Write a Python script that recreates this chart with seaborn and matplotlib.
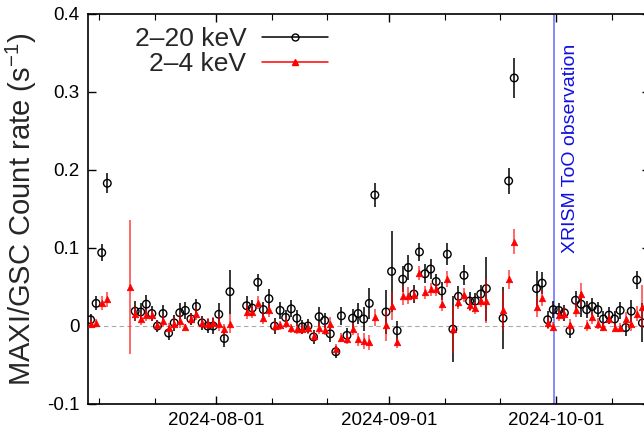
import matplotlib
matplotlib.use("Agg")
import matplotlib.pyplot as plt
import matplotlib.dates as mdates
from matplotlib.lines import Line2D
import pandas as pd
import seaborn as sns
import numpy as np

# 2-20 keV (black)
dates_hard = ["2024-07-09", "2024-07-10", "2024-07-11", "2024-07-12",
              "2024-07-17", "2024-07-18", "2024-07-19", "2024-07-20", "2024-07-21", "2024-07-22",
              "2024-07-23", "2024-07-24", "2024-07-25", "2024-07-26", "2024-07-27", "2024-07-28",
              "2024-07-29", "2024-07-30", "2024-07-31", "2024-08-01", "2024-08-02", "2024-08-03",
              "2024-08-06", "2024-08-07", "2024-08-08", "2024-08-09", "2024-08-10", "2024-08-11",
              "2024-08-12", "2024-08-13", "2024-08-14", "2024-08-15", "2024-08-16", "2024-08-17",
              "2024-08-18", "2024-08-19", "2024-08-20", "2024-08-21", "2024-08-22", "2024-08-23",
              "2024-08-24", "2024-08-25", "2024-08-26", "2024-08-27", "2024-08-28", "2024-08-29",
              "2024-08-31", "2024-09-01", "2024-09-02", "2024-09-03", "2024-09-04", "2024-09-05",
              "2024-09-06", "2024-09-07", "2024-09-08", "2024-09-09", "2024-09-10", "2024-09-11",
              "2024-09-12", "2024-09-13", "2024-09-14", "2024-09-15", "2024-09-16", "2024-09-17",
              "2024-09-18", "2024-09-21", "2024-09-22", "2024-09-23", "2024-09-27", "2024-09-28",
              "2024-09-29", "2024-09-30", "2024-10-01", "2024-10-02", "2024-10-03", "2024-10-04",
              "2024-10-05", "2024-10-06", "2024-10-07", "2024-10-08", "2024-10-09", "2024-10-10",
              "2024-10-11", "2024-10-12", "2024-10-13", "2024-10-14", "2024-10-15", "2024-10-16"]
rate_hard = [0.008, 0.029, 0.094, 0.183,
             0.019, 0.018, 0.028, 0.016, 0.000, 0.016,
             -0.009, 0.004, 0.017, 0.020, 0.009, 0.025,
             0.004, 0.000, 0.000, 0.015, -0.016, 0.044,
             0.026, 0.023, 0.056, 0.021, 0.035, 0.000,
             0.020, 0.011, 0.022, 0.010, -0.001, 0.000,
             -0.014, 0.012, 0.007, -0.010, -0.033, 0.013,
             -0.012, 0.010, 0.016, 0.009, 0.029, 0.168,
             0.018, 0.070, -0.006, 0.060, 0.075, 0.041,
             0.095, 0.067, 0.073, 0.057, 0.045, 0.092,
             -0.004, 0.038, 0.065, 0.032, 0.032, 0.041,
             0.048, 0.010, 0.186, 0.318, 0.048, 0.055,
             0.008, 0.021, 0.020, 0.017, -0.006, 0.033,
             0.028, 0.021, 0.025, 0.021, 0.009, 0.014,
             0.009, 0.020, -0.002, 0.019, 0.059, 0.004]
err_hard = [0.008, 0.009, 0.011, 0.013,
            0.013, 0.012, 0.012, 0.010, 0.008, 0.011,
            0.009, 0.010, 0.013, 0.011, 0.008, 0.010,
            0.009, 0.009, 0.010, 0.015, 0.011, 0.028,
            0.012, 0.010, 0.011, 0.010, 0.012, 0.010,
            0.011, 0.010, 0.011, 0.010, 0.009, 0.009,
            0.009, 0.012, 0.010, 0.011, 0.008, 0.012,
            0.010, 0.012, 0.014, 0.016, 0.020, 0.015,
            0.028, 0.052, 0.013, 0.017, 0.016, 0.011,
            0.012, 0.012, 0.013, 0.010, 0.012, 0.014,
            0.042, 0.013, 0.013, 0.011, 0.010, 0.012,
            0.041, 0.040, 0.017, 0.026, 0.022, 0.014,
            0.011, 0.011, 0.010, 0.010, 0.010, 0.012,
            0.016, 0.011, 0.011, 0.010, 0.010, 0.011,
            0.010, 0.011, 0.011, 0.014, 0.012, 0.025]

# 2-4 keV (red)
dates_soft = ["2024-07-09", "2024-07-10", "2024-07-11", "2024-07-12", "2024-07-16",
              "2024-07-17", "2024-07-18", "2024-07-19", "2024-07-20", "2024-07-21", "2024-07-22",
              "2024-07-23", "2024-07-24", "2024-07-25", "2024-07-26", "2024-07-27", "2024-07-28",
              "2024-07-29", "2024-07-30", "2024-07-31", "2024-08-01", "2024-08-02", "2024-08-03",
              "2024-08-06", "2024-08-07", "2024-08-08", "2024-08-09", "2024-08-10", "2024-08-11",
              "2024-08-12", "2024-08-13", "2024-08-14", "2024-08-15", "2024-08-16", "2024-08-17",
              "2024-08-18", "2024-08-19", "2024-08-20", "2024-08-21", "2024-08-22", "2024-08-23",
              "2024-08-24", "2024-08-25", "2024-08-26", "2024-08-27", "2024-08-28", "2024-08-29",
              "2024-08-31", "2024-09-01", "2024-09-02", "2024-09-03", "2024-09-04", "2024-09-05",
              "2024-09-06", "2024-09-07", "2024-09-08", "2024-09-09", "2024-09-10", "2024-09-11",
              "2024-09-12", "2024-09-13", "2024-09-14", "2024-09-15", "2024-09-16", "2024-09-17",
              "2024-09-18", "2024-09-21", "2024-09-22", "2024-09-23", "2024-09-27", "2024-09-28",
              "2024-09-29", "2024-09-30", "2024-10-01", "2024-10-02", "2024-10-03", "2024-10-04",
              "2024-10-05", "2024-10-06", "2024-10-07", "2024-10-08", "2024-10-09", "2024-10-10",
              "2024-10-11", "2024-10-12", "2024-10-13", "2024-10-14", "2024-10-15", "2024-10-16"]
rate_soft = [0.003, 0.004, 0.029, 0.034, 0.050,
             0.016, 0.009, 0.014, 0.014, 0.001, 0.006,
             -0.002, 0.003, 0.006, -0.001, 0.009, 0.016,
             0.004, 0.003, 0.004, 0.003, -0.004, 0.003,
             0.018, 0.018, 0.030, 0.010, 0.020, 0.000,
             0.001, 0.004, -0.003, -0.004, -0.004, -0.003,
             -0.013, -0.003, -0.005, 0.003, -0.029, -0.015,
             -0.017, -0.004, -0.017, -0.019, -0.021, 0.011,
             0.001, 0.026, -0.021, 0.039, 0.039, 0.040,
             0.068, 0.043, 0.047, 0.048, 0.028, 0.060,
             -0.004, 0.031, 0.040, 0.027, 0.023, 0.032,
             0.032, 0.020, 0.060, 0.108, 0.025, 0.036,
             0.004, -0.001, 0.014, 0.016, 0.001, 0.021,
             0.041, 0.001, 0.011, 0.003, -0.001, 0.009,
             -0.002, -0.002, 0.009, 0.003, 0.016, 0.025]
err_soft = [0.006, 0.005, 0.009, 0.009, 0.086,
            0.009, 0.008, 0.008, 0.007, 0.006, 0.007,
            0.006, 0.007, 0.009, 0.004, 0.007, 0.008,
            0.006, 0.007, 0.007, 0.010, 0.007, 0.012,
            0.009, 0.008, 0.008, 0.008, 0.008, 0.007,
            0.006, 0.007, 0.006, 0.006, 0.006, 0.007,
            0.007, 0.007, 0.007, 0.008, 0.006, 0.006,
            0.006, 0.008, 0.008, 0.010, 0.010, 0.011,
            0.020, 0.018, 0.007, 0.012, 0.011, 0.008,
            0.009, 0.008, 0.008, 0.009, 0.009, 0.010,
            0.030, 0.009, 0.009, 0.008, 0.008, 0.008,
            0.028, 0.025, 0.012, 0.016, 0.014, 0.010,
            0.008, 0.006, 0.007, 0.008, 0.008, 0.010,
            0.014, 0.007, 0.008, 0.007, 0.006, 0.007,
            0.006, 0.006, 0.009, 0.009, 0.010, 0.027]

xrism_time = "2024-09-30 14:00"

hard = pd.DataFrame({"date": pd.to_datetime(dates_hard) + pd.Timedelta(hours=12),
                     "rate": rate_hard, "err": err_hard})
soft = pd.DataFrame({"date": pd.to_datetime(dates_soft) + pd.Timedelta(hours=12),
                     "rate": rate_soft, "err": err_soft})

sns.set_theme(style="ticks")
plt.rcParams["font.family"] = ["Liberation Sans", "DejaVu Sans"]
plt.rcParams["mathtext.fontset"] = "custom"
plt.rcParams["mathtext.rm"] = "Liberation Sans"

fig = plt.figure(figsize=(6.44, 4.34), dpi=100)
ax = fig.add_axes([88 / 644, 30 / 434, (650 - 88) / 644, 390 / 434])

# error bars first, markers on top
ax.errorbar(hard["date"], hard["rate"], yerr=hard["err"], fmt="none",
            ecolor="black", elinewidth=1.1, capsize=0, zorder=2)
sns.scatterplot(data=hard, x="date", y="rate", ax=ax, marker="o", s=30,
                facecolor="none", edgecolor="black", linewidth=1.0, zorder=3)
ax.errorbar(soft["date"], soft["rate"], yerr=soft["err"], fmt="none",
            ecolor="red", elinewidth=1.1, capsize=0, alpha=0.75, zorder=4)
sns.scatterplot(data=soft, x="date", y="rate", ax=ax, marker="^", s=22,
                color="red", edgecolor="red", linewidth=0.5, zorder=5)

ax.axhline(0, color="#aaaaaa", ls="--", lw=0.8, dashes=(4, 3), zorder=1)
ax.axvline(pd.Timestamp(xrism_time), color="#7f7fff", lw=1.3, zorder=1)
ax.text(pd.Timestamp("2024-10-03 14:00"), 0.362, "XRISM ToO observation",
        rotation=90, ha="center", va="top", color="#1010e0", fontsize=14)

aug1 = pd.Timestamp("2024-08-01")
ax.set_xlim(aug1 - pd.Timedelta(days=22.96), aug1 + pd.Timedelta(days=77.86))
ax.set_ylim(-0.1, 0.4)
ax.set_yticks([-0.1, 0, 0.1, 0.2, 0.3, 0.4])
ax.set_yticklabels(["-0.1", "0", "0.1", "0.2", "0.3", "0.4"])
ax.xaxis.set_major_locator(mdates.MonthLocator(bymonthday=1))
ax.xaxis.set_minor_locator(mdates.DayLocator(bymonthday=[11, 21]))
ax.xaxis.set_major_formatter(mdates.DateFormatter("%Y-%m-%d"))
ax.tick_params(which="both", direction="in", top=True, right=True,
               labelsize=13.5, colors="black", pad=6)
ax.tick_params(which="major", length=6, width=1)
ax.tick_params(which="minor", length=4, width=0.8)
for s in ax.spines.values():
    s.set_color("black")
    s.set_linewidth(1.2)

ax.set_xlabel("")
ax.set_ylabel("MAXI/GSC Count rate (s$^{-1}$)", fontsize=21, labelpad=6)

handles = [Line2D([], [], color="black", lw=1.1, marker="o", markersize=5,
                  markerfacecolor="none", markeredgecolor="black"),
           Line2D([], [], color="red", lw=1.1, marker="^", markersize=4.5,
                  markerfacecolor="red", markeredgecolor="red")]
ax.legend(handles, ["2\u201320 keV", "2\u20134 keV"], loc="upper left",
          bbox_to_anchor=(0.05, 1.014), frameon=False, markerfirst=False,
          fontsize=19, handlelength=2.5, handletextpad=0.6, labelspacing=0.05,
          borderpad=0.2)

plt.savefig("out.png", dpi=100)
